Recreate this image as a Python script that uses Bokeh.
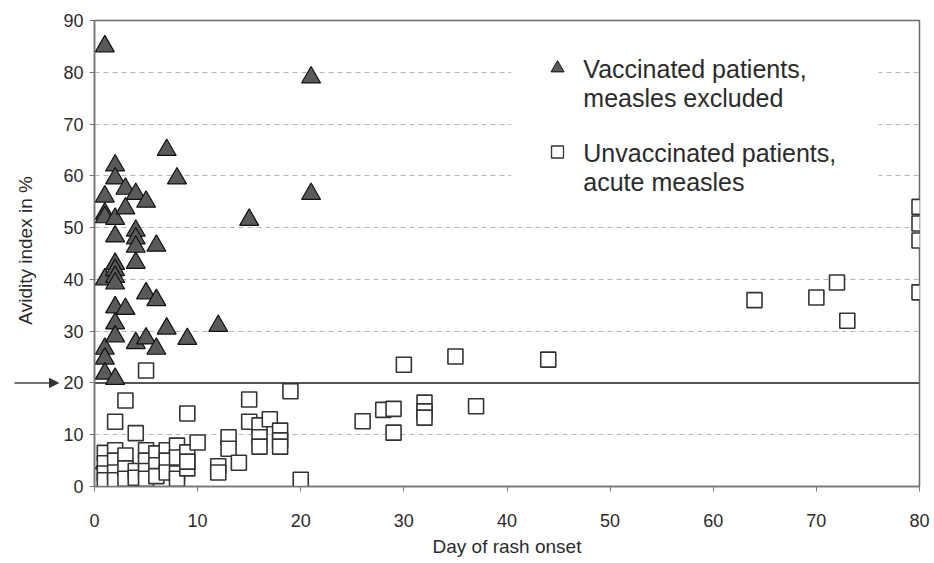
import math
from bokeh.plotting import figure
from bokeh.layouts import row
from bokeh.models import Span, Arrow, NormalHead, FixedTicker, Range1d
from bokeh.embed import file_html
from bokeh.resources import INLINE
from bokeh.core.properties import value

# Vaccinated patients, measles excluded (triangles)
vacc_day = [1, 1, 1, 1, 1, 1, 1, 1, 1,
            2, 2, 2, 2, 2, 2, 2, 2, 2, 2, 2, 2,
            3, 3, 3,
            4, 4, 4, 4, 4, 4,
            5, 5, 5,
            6, 6, 6,
            7, 7, 8, 9, 12, 15, 21, 21]
vacc_avid = [85, 56, 52.7, 52, 40, 26.6, 24.7, 21.8, 4.5,
             62, 59.5, 51.7, 48.3, 43, 41.8, 40.5, 39.2, 34.6, 31.5, 29, 20.8,
             57.5, 53.7, 34.3,
             56.5, 49.4, 47.9, 46.3, 43.2, 27.7,
             55, 37.3, 28.6,
             46.5, 36, 26.6,
             65, 30.5, 59.5, 28.5, 31, 51.5, 79, 56.5]

# Unvaccinated patients, acute measles (squares)
unvacc_day = [1, 1, 1, 1, 2, 2, 2, 2, 2, 3, 3, 3, 3, 4, 4, 4, 5, 5, 5, 5, 5,
              6, 6, 6, 7, 7, 7, 8, 8, 8, 8, 9, 9, 9, 9, 10,
              12, 12, 13, 13, 14, 15, 15, 16, 16, 16, 17, 18, 18, 18, 19, 20,
              26, 28, 29, 29, 30, 32, 32, 32, 35, 37, 44,
              64, 70, 72, 73, 80, 80, 80, 80]
unvacc_avid = [6.5, 4.5, 2.5, 1.2, 12.5, 7, 5, 2.7, 1.2, 16.6, 6, 3.5, 1.5, 10.3, 3, 1.7, 22.4, 7, 5, 3, 1.5,
               6.4, 4.1, 2, 7, 5, 2.7, 7.9, 5.6, 2.5, 1.5, 14.1, 6.6, 3.5, 4.8, 8.5,
               3.9, 2.7, 9.5, 7.3, 4.6, 16.8, 12.5, 11.8, 9.5, 7.7, 13, 10.8, 8.9, 7.7, 18.4, 1.3,
               12.6, 14.8, 15, 10.4, 23.5, 16.2, 14.5, 13.3, 25.1, 15.5, 24.5,
               36, 36.5, 39.4, 32, 54, 50.8, 47.5, 37.5]

x_ticks = [0, 10, 20, 30, 40, 50, 60, 70, 80]
y_ticks = [0, 10, 20, 30, 40, 50, 60, 70, 80, 90]
grid_ticks = [10, 30, 40, 50, 60, 70, 80]
cutoff = 20
y_title = "Avidity index in %"

FONT = "Liberation Sans"
TXT = "#2b2b2b"
H = 562
TOP, BOTTOM = 20, 76

# ---- left strip: y-axis title and cut-off arrow ----
side = figure(width=60, height=H, x_range=Range1d(0, 60), y_range=Range1d(0, 90),
              output_backend="svg", toolbar_location=None,
              min_border_left=0, min_border_right=0, min_border_top=TOP, min_border_bottom=BOTTOM)
side.axis.visible = False
side.grid.visible = False
side.outline_line_color = None
side.background_fill_color = "white"
side.border_fill_color = "white"
side.text(x=[25], y=[45.6], text=[y_title], angle=math.pi / 2,
          text_font=value(FONT), text_font_size="19px", text_color=TXT,
          text_align="center", text_baseline="middle")
side.add_layout(Arrow(end=NormalHead(size=9, fill_color="#333333", line_color="#333333"),
                      x_start=14, x_end=58, y_start=cutoff, y_end=cutoff,
                      line_color="#444444", line_width=1.5))

# ---- main plot ----
p = figure(width=870, height=H, x_range=Range1d(0, 80), y_range=Range1d(0, 90),
           output_backend="svg", toolbar_location=None,
           min_border_left=33, min_border_right=11, min_border_top=TOP, min_border_bottom=BOTTOM)
p.background_fill_color = "white"
p.border_fill_color = "white"
p.outline_line_color = "#6a6a6a"
p.outline_line_width = 1.5

p.xgrid.visible = False
p.ygrid.ticker = FixedTicker(ticks=grid_ticks)
p.ygrid.grid_line_color = "#b5b5b5"
p.ygrid.grid_line_dash = "5 4"
p.ygrid.grid_line_width = 1

for ax in (p.xaxis[0], p.yaxis[0]):
    ax.axis_line_color = "#777777"
    ax.axis_line_width = 1.5
    ax.major_tick_line_color = "#777777"
    ax.major_tick_in = 0
    ax.major_tick_out = 5
    ax.minor_tick_line_color = None
    ax.major_label_text_font = FONT
    ax.major_label_text_font_size = "18px"
    ax.major_label_text_color = TXT
    ax.axis_label_text_font = FONT
    ax.axis_label_text_font_size = "19px"
    ax.axis_label_text_font_style = "normal"
    ax.axis_label_text_color = TXT

p.xaxis.ticker = FixedTicker(ticks=x_ticks)
p.yaxis.ticker = FixedTicker(ticks=y_ticks)
p.xaxis.major_label_standoff = 22
p.yaxis.major_label_standoff = 6
p.xaxis.axis_label = "Day of rash onset"
p.xaxis.axis_label_standoff = 6

span = Span(location=cutoff, dimension="width", line_color="#555555", line_width=2, level="underlay")
p.add_layout(span)

# data
p.scatter(vacc_day, vacc_avid, marker="triangle", size=19, fill_color="#5a5a5a",
          line_color="#111111", line_width=1.2)
p.scatter(unvacc_day, unvacc_avid, marker="square", size=15, fill_color="white",
          line_color="#333333", line_width=1.6)

# legend box
p.quad(left=[40.4], right=[76.0], bottom=[54.2], top=[86.1], fill_color="white", line_color=None)
p.scatter([44.9], [80.8], marker="triangle", size=13, fill_color="#5a5a5a", line_color="#111111", line_width=1)
p.scatter([44.9], [64.6], marker="square", size=12, fill_color="white", line_color="#333333", line_width=1.3)
p.text(x=[47.4, 47.4, 47.4, 47.4], y=[80.6, 75.1, 64.4, 58.9],
       text=["Vaccinated patients,", "measles excluded", "Unvaccinated patients,", "acute measles"],
       text_font=value(FONT), text_font_size="25px", text_color=TXT,
       text_baseline="middle", text_align="left")

layout = row(side, p, spacing=0)
open("out.html", "w").write(file_html(layout, INLINE))
